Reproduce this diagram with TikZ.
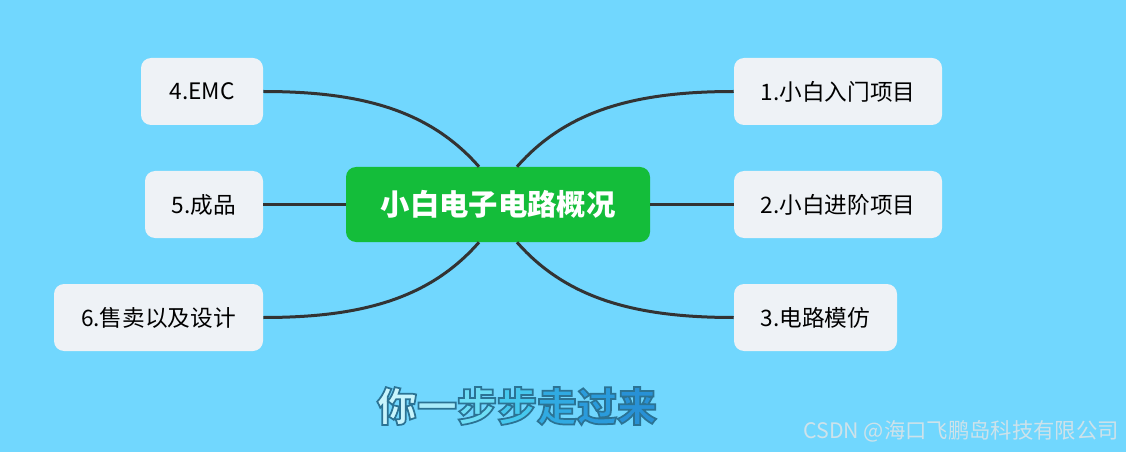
\documentclass[tikz,border=0pt]{standalone}
\usepackage{fontspec}
\setmainfont{Noto Sans CJK SC}
\usetikzlibrary{calc}
\definecolor{bg}{RGB}{113,215,254}
\definecolor{boxfill}{RGB}{238,242,246}
\definecolor{green1}{RGB}{20,189,58}
\definecolor{linec}{RGB}{51,51,51}
\definecolor{wm}{RGB}{206,226,234}
\definecolor{g1}{RGB}{200,244,252}
\definecolor{g2}{RGB}{170,236,250}
\definecolor{g3}{RGB}{110,222,246}
\definecolor{g4}{RGB}{70,200,238}
\definecolor{g5}{RGB}{48,170,226}
\definecolor{g6}{RGB}{42,155,220}
\definecolor{g7}{RGB}{40,145,214}
\newcommand{\outlch}[2]{\textcolor{#1}{\special{pdf:literal direct 0.17 0.45 0.58 RG 1.3 w 2 Tr}#2\special{pdf:literal direct 0 Tr}}}
\tikzset{
  topic/.style={draw=none, fill=boxfill, rounded corners=7.5pt, minimum height=50.25pt,
    inner sep=0pt, font=\fontsize{17}{20}\selectfont, text=black},
  central/.style={fill=green1, rounded corners=7.5pt, minimum width=228pt, minimum height=56.25pt,
    inner sep=0pt, font=\fontsize{22}{26}\selectfont\bfseries, text=white},
  conn/.style={draw=linec, line width=2.25pt}
}
\begin{document}
\begin{tikzpicture}[x=0.75pt,y=-0.75pt]
\fill[bg] (0,0) rectangle (1126,452);
\useasboundingbox (0,0) rectangle (1126,452);
\node[central] (c) at (498,204.5) {小白电子电路概况};
\node[topic, minimum width=156pt] (n1) at (838,91.5) {1.小白入门项目};
\node[topic, minimum width=156pt] (n2) at (838,204.5) {2.小白进阶项目};
\node[topic, minimum width=122.25pt] (n3) at (815.5,317.5) {3.电路模仿};
\node[topic, minimum width=91.5pt] (n4) at (202,91.5) {4.EMC};
\node[topic, minimum width=88.5pt] (n5) at (204,204.5) {5.成品};
\node[topic, minimum width=156.75pt] (n6) at (158.5,317.5) {6.售卖以及设计};
\draw[conn] ($(c.north)+(-19,0)$) .. controls +(-50,-57) and +(97,0) .. (n4.east);
\draw[conn] ($(c.north)+(19,0)$) .. controls +(50,-57) and +(-97,0) .. (n1.west);
\draw[conn] ($(c.south)+(-19,0)$) .. controls +(-50,57) and +(97,0) .. (n6.east);
\draw[conn] ($(c.south)+(19,0)$) .. controls +(50,57) and +(-97,0) .. (n3.west);
\draw[conn] (c.east) -- (n2.west);
\draw[conn] (c.west) -- (n5.east);
\node[font=\fontsize{30}{34}\selectfont\bfseries, inner sep=0pt] (slogan) at (517,406)
  {\outlch{g1}{你}\outlch{g2}{一}\outlch{g3}{步}\outlch{g4}{步}\outlch{g5}{走}\outlch{g6}{过}\outlch{g7}{来}};
\node[anchor=east, font=\fontsize{16}{19}\selectfont, text=wm, inner sep=0pt] (wmark) at (1119,431) {CSDN @海口飞鹏岛科技有限公司};
\end{tikzpicture}
\end{document}
